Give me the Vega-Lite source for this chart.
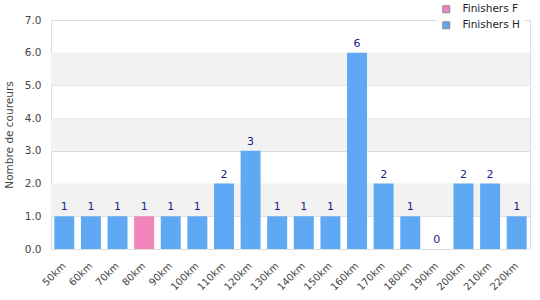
{
  "$schema": "https://vega.github.io/schema/vega-lite/v6.json",
  "width": 479,
  "height": 229,
  "autosize": "none",
  "padding": {"left": 51, "top": 20, "right": 10, "bottom": 51},
  "config": {
    "font": "DejaVu Sans",
    "view": {"stroke": "#dddddd", "strokeWidth": 1},
    "axis": {"labelFont": "DejaVu Sans", "titleFont": "DejaVu Sans", "labelColor": "#444444", "titleColor": "#444444"}
  },
  "datasets": {
    "bands": [
      {"lo": 1, "hi": 2},
      {"lo": 3, "hi": 4},
      {"lo": 5, "hi": 6}
    ],
    "runs": [
      {"distance": "50km", "serie": "Finishers H", "count": 1},
      {"distance": "60km", "serie": "Finishers H", "count": 1},
      {"distance": "70km", "serie": "Finishers H", "count": 1},
      {"distance": "80km", "serie": "Finishers F", "count": 1},
      {"distance": "90km", "serie": "Finishers H", "count": 1},
      {"distance": "100km", "serie": "Finishers H", "count": 1},
      {"distance": "110km", "serie": "Finishers H", "count": 2},
      {"distance": "120km", "serie": "Finishers H", "count": 3},
      {"distance": "130km", "serie": "Finishers H", "count": 1},
      {"distance": "140km", "serie": "Finishers H", "count": 1},
      {"distance": "150km", "serie": "Finishers H", "count": 1},
      {"distance": "160km", "serie": "Finishers H", "count": 6},
      {"distance": "170km", "serie": "Finishers H", "count": 2},
      {"distance": "180km", "serie": "Finishers H", "count": 1},
      {"distance": "190km", "serie": "Finishers H", "count": 0},
      {"distance": "200km", "serie": "Finishers H", "count": 2},
      {"distance": "210km", "serie": "Finishers H", "count": 2},
      {"distance": "220km", "serie": "Finishers H", "count": 1}
    ]
  },
  "layer": [
    {
      "data": {"name": "bands"},
      "mark": {"type": "rect", "color": "#f2f2f2"},
      "encoding": {
        "y": {
          "field": "lo", "type": "quantitative",
          "scale": {"domain": [0, 7], "nice": false},
          "axis": {"title": "Nombre de coureurs", "titleFontSize": 10.5, "titleFontWeight": "normal", "titlePadding": 10, "format": ".1f", "values": [0,1,2,3,4,5,6,7], "labelOverlap": false, "labelFontSize": 10.5, "ticks": false, "domain": false, "grid": true, "gridColor": "#dddddd", "labelPadding": 10}
        },
        "y2": {"field": "hi"}
      }
    },
    {
      "data": {"name": "runs"},
      "encoding": {
        "x": {
          "field": "distance", "type": "nominal", "sort": null,
          "scale": {"paddingInner": 0.25, "paddingOuter": 0.125},
          "axis": {"title": null, "labelAngle": -45, "labelAlign": "right", "labelBaseline": "middle", "labelFontSize": 10, "ticks": false, "domain": false, "labelPadding": 15}
        },
        "y": {
          "field": "count", "type": "quantitative", "stack": null,
          "scale": {"domain": [0, 7], "nice": false},
          "axis": {"title": "Nombre de coureurs", "titleFontSize": 10.5, "titleFontWeight": "normal", "titlePadding": 10, "format": ".1f", "values": [0,1,2,3,4,5,6,7], "labelOverlap": false, "labelFontSize": 10.5, "ticks": false, "domain": false, "grid": true, "gridColor": "#dddddd", "labelPadding": 10}
        }
      },
      "layer": [
        {
          "mark": {"type": "bar"},
          "encoding": {
            "color": {
              "field": "serie", "type": "nominal",
              "scale": {"domain": ["Finishers F", "Finishers H"], "range": ["#f183bd", "#5fa8f3"]},
              "legend": {
                "title": null, "orient": "none", "legendX": 386, "legendY": -20,
                "symbolType": "square", "symbolSize": 49, "symbolStrokeColor": "#888888", "symbolStrokeWidth": 1,
                "labelFontSize": 10.5, "labelColor": "#222222", "labelOffset": 11, "rowPadding": 4,
                "fillColor": "white", "padding": 4
              }
            }
          }
        },
        {
          "mark": {"type": "text", "baseline": "bottom", "dy": -4, "fontSize": 11, "color": "#1c1c8a"},
          "encoding": {
            "text": {"field": "count", "type": "quantitative"}
          }
        }
      ]
    }
  ]
}
